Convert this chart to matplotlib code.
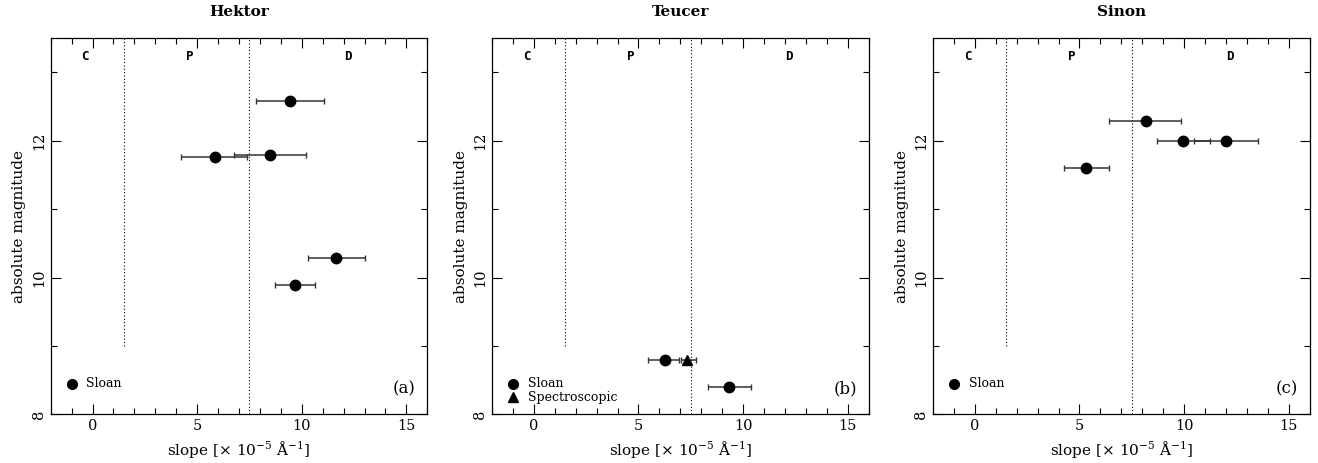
import matplotlib
matplotlib.use("Agg")
import matplotlib.pyplot as plt
from matplotlib.ticker import MultipleLocator

plt.rcParams['font.family'] = ['DejaVu Serif']
plt.rcParams['mathtext.fontset'] = 'dejavuserif'

titles = ["Hektor", "Teucer", "Sinon"]
panel_tags = ["(a)", "(b)", "(c)"]

# Hektor (Sloan)
hek_slope = [9.45, 8.5, 5.85, 11.65, 9.7]
hek_lo = [7.8, 6.76, 4.22, 10.28, 8.74]
hek_hi = [11.05, 10.18, 7.4, 13.0, 10.61]
hek_mag = [12.59, 11.8, 11.77, 10.29, 9.89]

# Teucer (Sloan)
teu_slope = [6.27, 9.34]
teu_lo = [5.44, 8.32]
teu_hi = [6.96, 10.38]
teu_mag = [8.8, 8.4]
# Teucer (Spectroscopic)
teu_sp_slope = [7.31]
teu_sp_lo = [7.04]
teu_sp_hi = [7.74]
teu_sp_mag = [8.8]

# Sinon (Sloan)
sin_slope = [8.16, 9.95, 12.02, 5.33]
sin_lo = [6.43, 8.70, 10.46, 4.27]
sin_hi = [9.87, 11.23, 13.55, 6.40]
sin_mag = [12.29, 12.0, 12.0, 11.6]

# class boundaries
cp_boundary = 1.5
pd_boundary = 7.5
class_labels = ["C", "P", "D"]
class_label_x = [-0.35, 4.65, 12.2]

fig = plt.figure(figsize=(13.18, 4.63), dpi=100)
lefts = [50.7 / 1318, 492 / 1318, 933 / 1318]
w = 376.6 / 1318
b = (463 - 414.3) / 463
h = 376 / 463
axes = [fig.add_axes([l, b, w, h]) for l in lefts]

ecol = '#333333'

def draw_err(ax, xs, lo, hi, ys, marker):
    xerr = [[x - l for x, l in zip(xs, lo)], [hh - x for x, hh in zip(xs, hi)]]
    ax.errorbar(xs, ys, xerr=xerr, fmt=marker, color='black', ecolor=ecol,
                elinewidth=1.1, capsize=2.5, capthick=1.0, markersize=7.5,
                zorder=3)

data = [
    [(hek_slope, hek_lo, hek_hi, hek_mag, 'o')],
    [(teu_slope, teu_lo, teu_hi, teu_mag, 'o'),
     (teu_sp_slope, teu_sp_lo, teu_sp_hi, teu_sp_mag, '^')],
    [(sin_slope, sin_lo, sin_hi, sin_mag, 'o')],
]

for i, ax in enumerate(axes):
    ax.set_xlim(-2, 16)
    ax.set_ylim(8, 13.5)
    ax.axvline(cp_boundary, ymin=(9 - 8) / 5.5, ymax=1, color='black',
               linestyle=(0, (1, 2)), linewidth=0.8)
    ax.axvline(pd_boundary, color='black', linestyle=(0, (1, 2)), linewidth=0.8)
    for lab, lx in zip(class_labels, class_label_x):
        ax.text(lx, 13.24, lab, family='DejaVu Sans Mono', fontweight='bold',
                fontsize=9, ha='center', va='center')
    for (xs, lo, hi, ys, mk) in data[i]:
        draw_err(ax, xs, lo, hi, ys, mk)
    # legend
    ax.plot([-1.0], [8.45], 'o', color='black', markersize=7)
    ax.text(-0.3, 8.45, "Sloan", fontsize=9, va='center', ha='left')
    if i == 1:
        ax.plot([-1.0], [8.25], '^', color='black', markersize=7)
        ax.text(-0.3, 8.25, "Spectroscopic", fontsize=9, va='center', ha='left')
    ax.text(14.9, 8.37, panel_tags[i], fontsize=12, ha='center', va='center')

    ax.xaxis.set_major_locator(MultipleLocator(5))
    ax.xaxis.set_minor_locator(MultipleLocator(1))
    ax.yaxis.set_major_locator(MultipleLocator(2))
    ax.yaxis.set_minor_locator(MultipleLocator(1))
    ax.tick_params(which='both', direction='in', top=True, right=True,
                   labelsize=10.5)
    ax.tick_params(which='major', length=7, width=0.8)
    ax.tick_params(which='minor', length=4, width=0.8)
    for lab in ax.get_yticklabels():
        lab.set_rotation(90)
        lab.set_va('center')
    ax.set_xlabel(r"slope [$\times$ 10$^{-5}$ $\mathrm{\AA}^{-1}$]", fontsize=11,
                  labelpad=4)
    ax.set_ylabel("absolute magnitude", fontsize=11, labelpad=4)
    pos = ax.get_position()
    fig.text(pos.x0 + pos.width / 2, 1 - 12 / 463, titles[i], fontsize=11,
             fontweight='bold', ha='center', va='center')
    for sp in ax.spines.values():
        sp.set_linewidth(0.9)

fig.savefig("out.png", dpi=100)
